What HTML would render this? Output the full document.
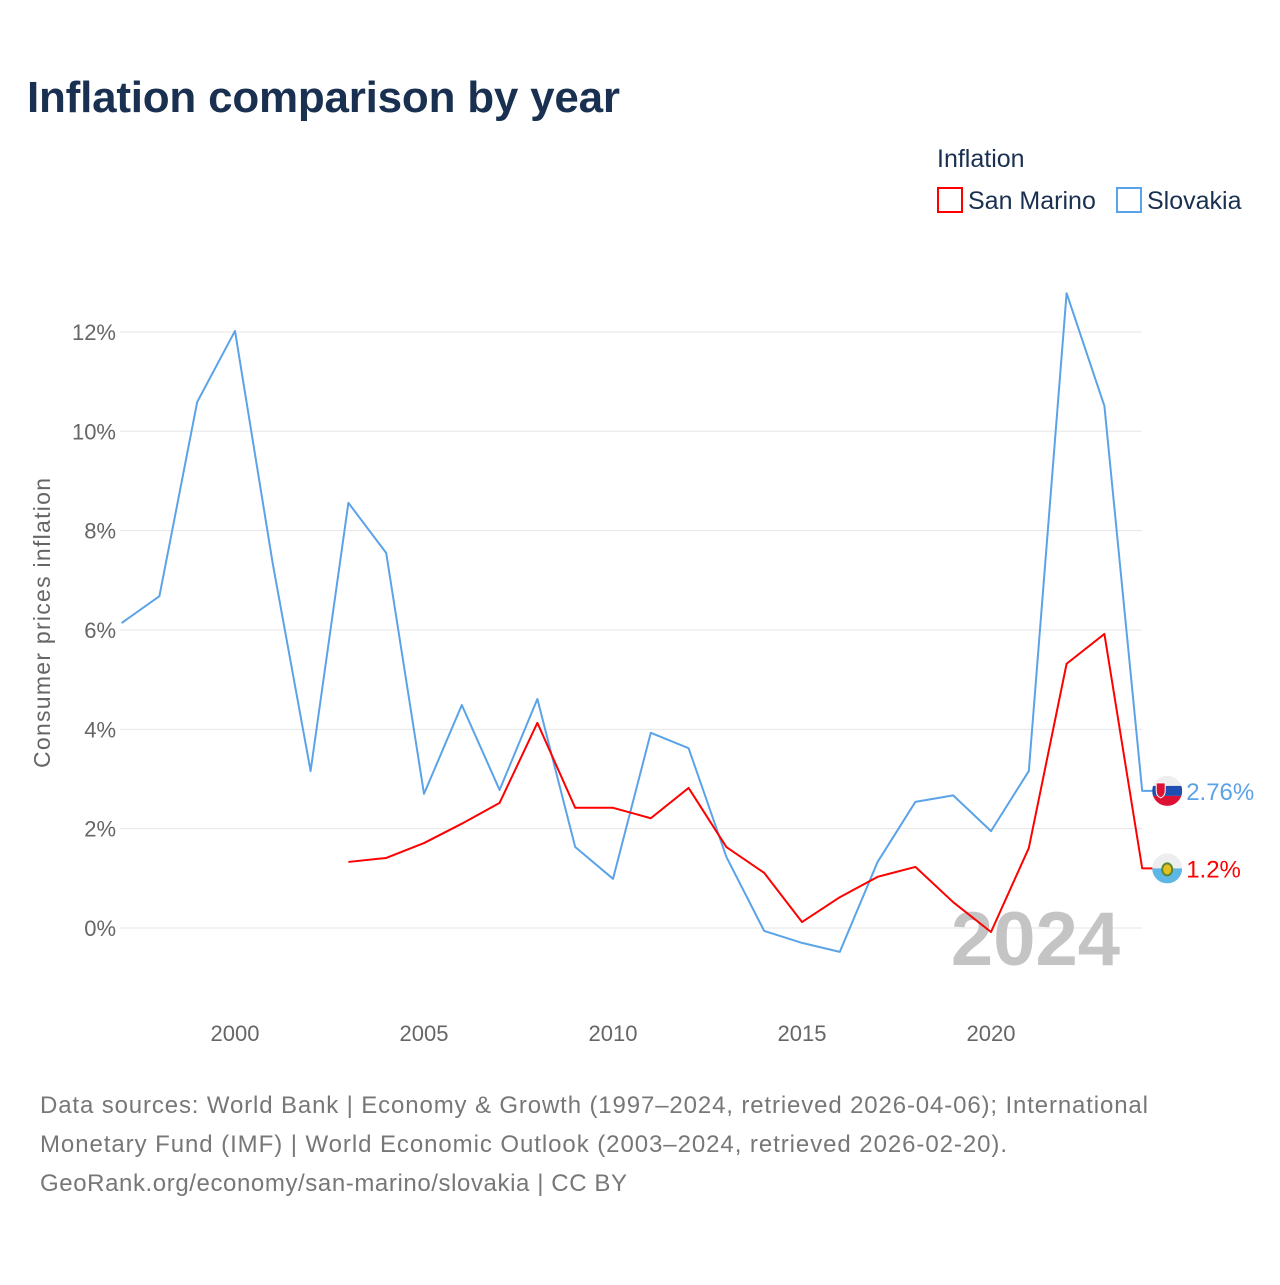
<!DOCTYPE html>
<html><head><meta charset="utf-8"><style>
body{margin:0;background:#fff;font-family:"Liberation Sans",sans-serif;}
</style></head><body>
<svg width="1280" height="1280" xmlns="http://www.w3.org/2000/svg" id="svg">
<text x="27" y="112" font-size="44" font-weight="bold" fill="#1a3050" textLength="593">Inflation comparison by year</text>
<text x="937" y="167" font-size="25" fill="#1a3050">Inflation</text>
<g><rect x="938" y="188" width="24" height="24" fill="none" stroke="#ff0000" stroke-width="2"/><text x="968" y="209" font-size="25" fill="#1a3050">San Marino</text></g>
<g><rect x="1117" y="188" width="24" height="24" fill="none" stroke="#5ba3e8" stroke-width="2"/><text x="1147" y="209" font-size="25" fill="#1a3050">Slovakia</text></g>
<text transform="translate(50,623) rotate(-90)" text-anchor="middle" font-size="23" fill="#666" textLength="290">Consumer prices inflation</text>
<g id="grid"></g><g id="yticks"></g><g id="xticks"></g>
<text x="1120" y="965" text-anchor="end" font-size="76" font-weight="bold" fill="#c4c4c4">2024</text>
<g id="lines"></g>
<text x="40" y="1113" font-size="24" fill="#777" textLength="1108">Data sources: World Bank | Economy &amp; Growth (1997–2024, retrieved 2026-04-06); International</text>
<text x="40" y="1152" font-size="24" fill="#777" textLength="967">Monetary Fund (IMF) | World Economic Outlook (2003–2024, retrieved 2026-02-20).</text>
<text x="40" y="1191" font-size="24" fill="#777" textLength="587">GeoRank.org/economy/san-marino/slovakia | CC BY</text>
</svg>
<script>
const years=[1997,1998,1999,2000,2001,2002,2003,2004,2005,2006,2007,2008,2009,2010,2011,2012,2013,2014,2015,2016,2017,2018,2019,2020,2021,2022,2023,2024];
const slovakia=[6.14,6.68,10.59,12.02,7.33,3.16,8.56,7.55,2.70,4.49,2.78,4.61,1.63,0.99,3.93,3.62,1.43,-0.06,-0.30,-0.48,1.33,2.54,2.67,1.95,3.16,12.78,10.51,2.76];
const sanMarinoYears=[2003,2004,2005,2006,2007,2008,2009,2010,2011,2012,2013,2014,2015,2016,2017,2018,2019,2020,2021,2022,2023,2024];
const sanMarino=[1.33,1.41,1.71,2.1,2.52,4.13,2.42,2.42,2.21,2.82,1.63,1.11,0.12,0.62,1.03,1.23,0.52,-0.08,1.61,5.32,5.92,1.2];
const yTicks=[0,2,4,6,8,10,12];
const xTicks=[2000,2005,2010,2015,2020];
const X=v=>235+(v-2000)*37.8, Y=v=>928-v*49.67;
const NS="http://www.w3.org/2000/svg";
function mk(tag,attrs,parent,txt){const e=document.createElementNS(NS,tag);for(const k in attrs)e.setAttribute(k,attrs[k]);if(txt!==undefined)e.textContent=txt;document.getElementById(parent).appendChild(e);return e;}
yTicks.forEach(t=>{
 const l=mk('line',{x1:120,x2:1142,y1:Y(t),y2:Y(t),stroke:'#e6e6e6','stroke-width':1},'grid');
 
 
 const tx=mk('text',{x:116,y:Y(t)+8,'text-anchor':'end','font-size':22,fill:'#666'},'yticks',t+'%');
 
 
});
xTicks.forEach(t=>{
 const tx=mk('text',{x:X(t),y:1041,'text-anchor':'middle','font-size':22,fill:'#666'},'xticks',t);
 
 
});
function series(xs,vs,color,name,label,flag){
 const pts=xs.map((y,i)=>X(y)+','+Y(vs[i])).join(' ');
 const endX=X(xs[xs.length-1]), endY=Y(vs[vs.length-1]);
 const p=mk('polyline',{points:pts+' '+(endX+11)+','+endY,fill:'none',stroke:color,'stroke-width':2,'stroke-linejoin':'round'},'lines');
 
 
 const g=mk('g',{},'lines');
 
 
 const cx=endX+25;
 g.innerHTML=flag(cx,endY);
 const t=mk('text',{x:cx+19,y:endY+9,'font-size':24,fill:color},'lines',label);
 
 
}
series(years,slovakia,'#5ba3e8','slovakia',slovakia[slovakia.length-1]+'%',(x,y)=>`<clipPath id="c1"><circle cx="${x}" cy="${y}" r="15"/></clipPath><g clip-path="url(#c1)"><rect x="${x-15}" y="${y-15}" width="30" height="10" fill="#eee"/><rect x="${x-15}" y="${y-5}" width="30" height="10" fill="#1e4fb0"/><rect x="${x-15}" y="${y+5}" width="30" height="10" fill="#dd1133"/></g><path d="M${x-11} ${y-8}h9v8q0 5-4.5 7q-4.5-2-4.5-7z" fill="#dd1133" stroke="#fff" stroke-width="1"/>`);
series(sanMarinoYears,sanMarino,'#ff0000','san-marino',sanMarino[sanMarino.length-1]+'%',(x,y)=>`<clipPath id="c2"><circle cx="${x}" cy="${y}" r="15"/></clipPath><g clip-path="url(#c2)"><rect x="${x-15}" y="${y-15}" width="30" height="15" fill="#eee"/><rect x="${x-15}" y="${y}" width="30" height="15" fill="#5eb6e4"/></g><ellipse cx="${x}" cy="${y+1}" rx="5" ry="6" fill="#e6c020" stroke="#5a8a30" stroke-width="2"/>`);
</script>
</body></html>
